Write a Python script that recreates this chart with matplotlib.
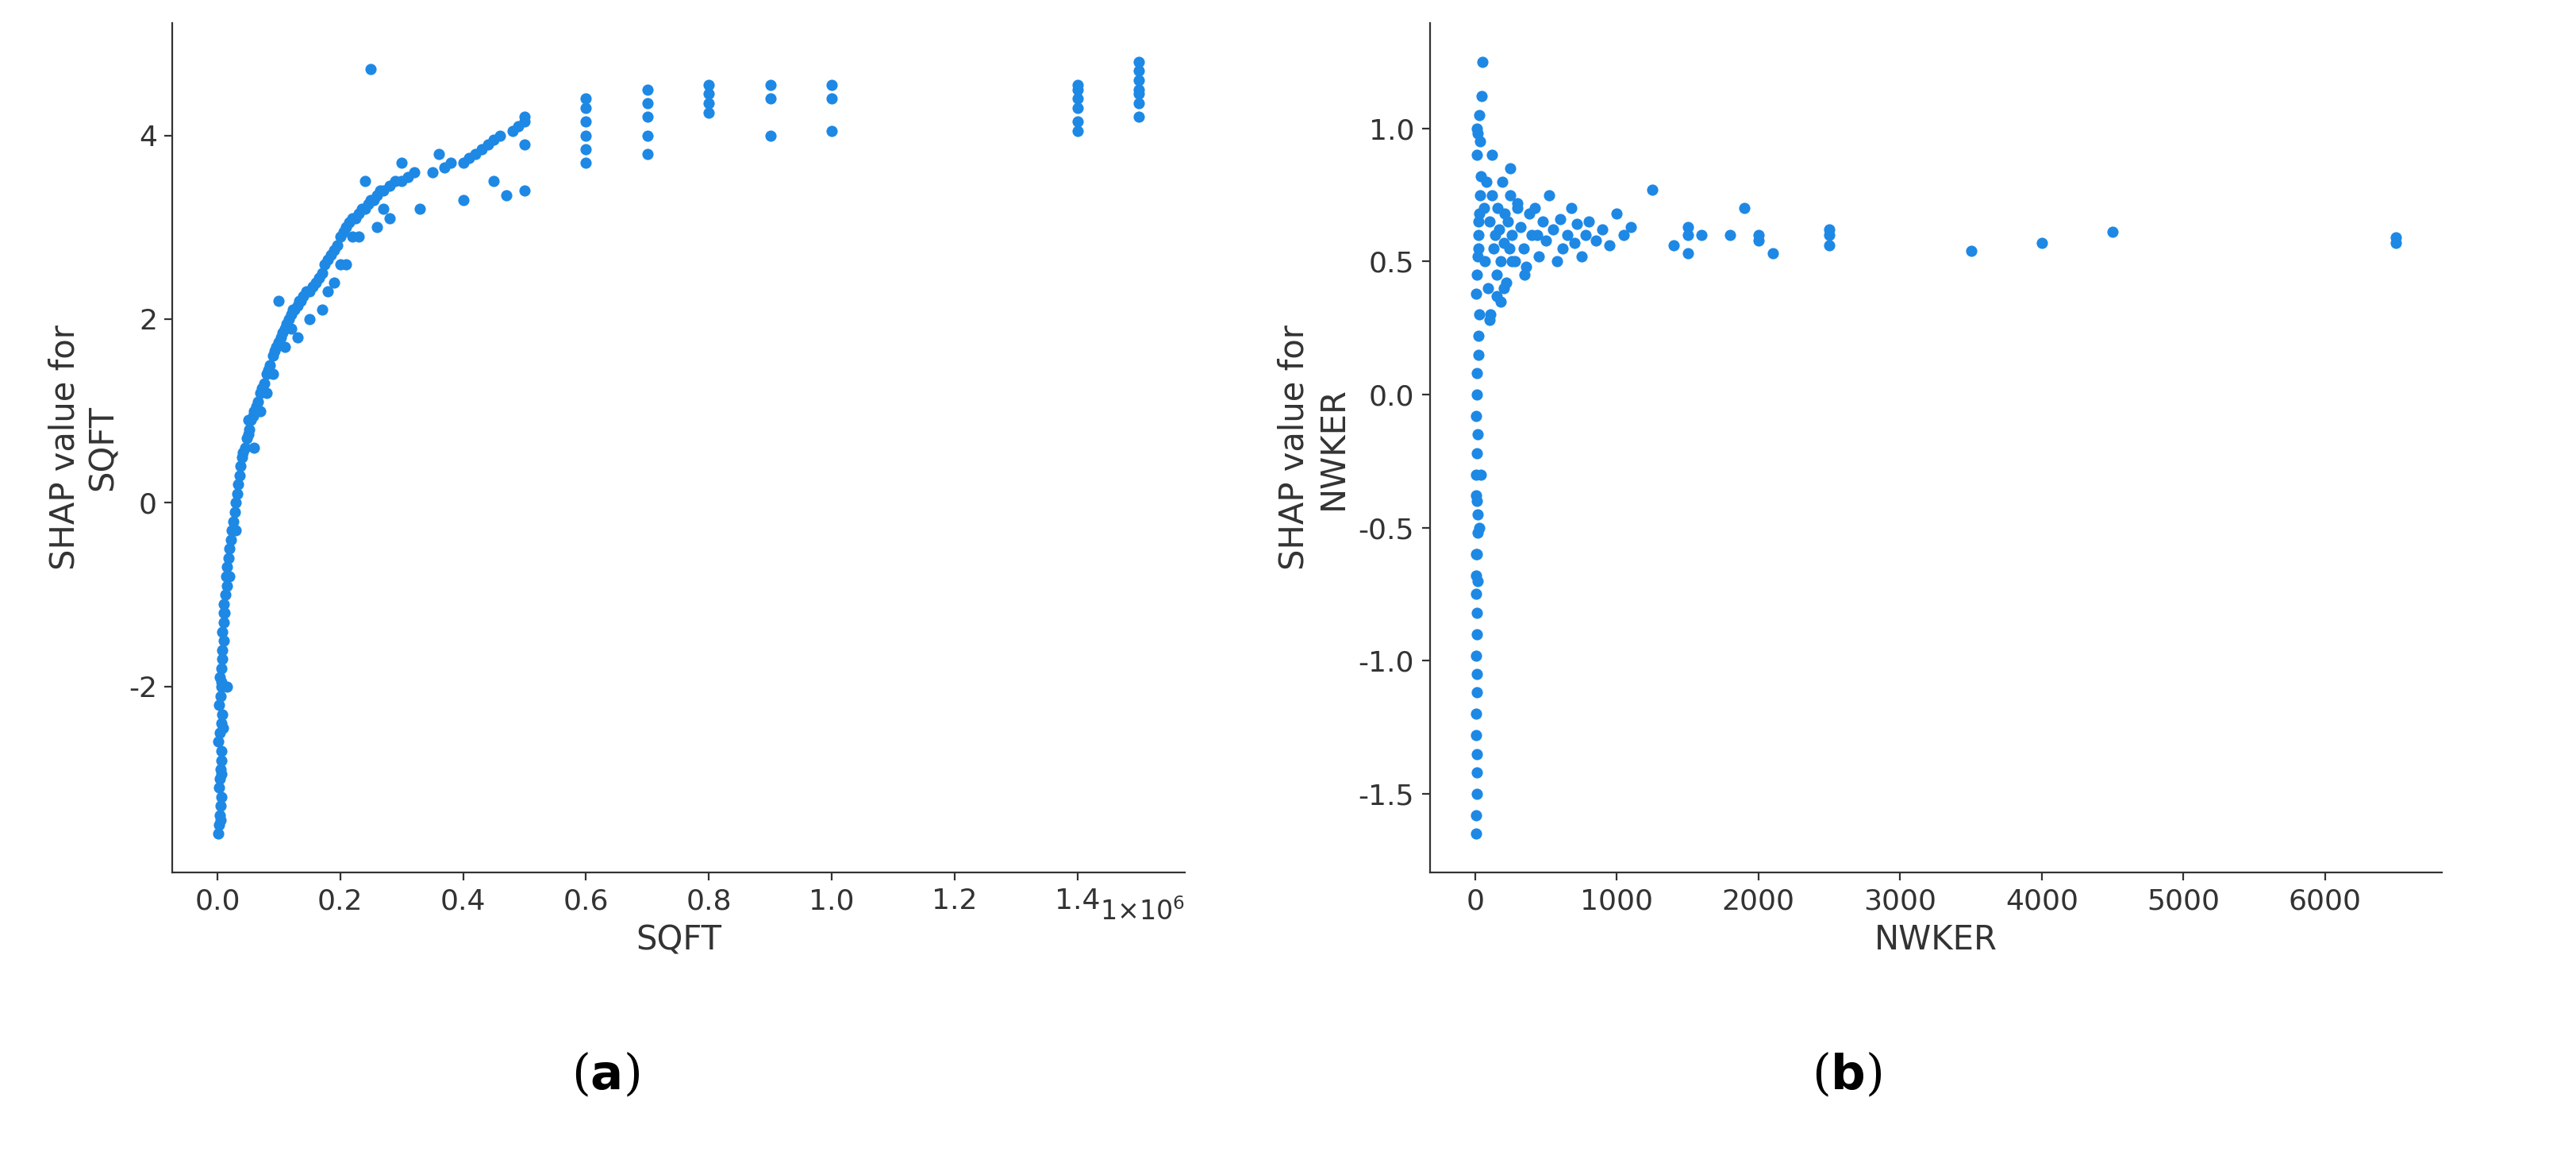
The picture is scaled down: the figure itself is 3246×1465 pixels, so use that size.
import matplotlib
matplotlib.use("Agg")
import matplotlib.pyplot as plt
from matplotlib.ticker import FuncFormatter

# ---------- Panel (a): SQFT (x in units of 1e6) ----------
sqft_x = [0.002,0.003,0.004,0.005,0.006,0.003,0.004,0.005,0.006,0.007,0.002,0.004,0.006,0.008,0.003,0.005,0.007,0.004,0.006,0.008,0.005,0.007,0.009,0.006,0.008,0.010,0.008,0.010,0.012,0.011,0.013,0.015,0.014,0.016,0.018,0.02,0.022,0.024,0.026,0.028,0.03,0.032,0.034,0.036,0.038,0.04,0.042,0.045,0.048,0.05,0.052,0.055,0.058,0.06,0.063,0.066,0.07,0.073,0.076,0.08,0.083,0.086,0.09,0.093,0.096,0.1,0.103,0.106,0.11,0.113,0.116,0.12,0.123,0.126,0.13,0.133,0.136,0.14,0.145,0.15,0.155,0.16,0.165,0.17,0.175,0.18,0.185,0.19,0.195,0.2,0.205,0.21,0.215,0.22,0.225,0.23,0.235,0.24,0.245,0.25,0.255,0.26,0.265,0.27,0.28,0.29,0.3,0.31,0.32,0.35,0.37,0.38,0.4,0.41,0.42,0.43,0.44,0.45,0.46,0.48,0.49,0.5,0.5,0.5,0.5,0.25,0.6,0.6,0.6,0.6,0.6,0.6,0.7,0.7,0.7,0.7,0.7,0.8,0.8,0.8,0.8,0.9,0.9,0.9,1.0,1.0,1.0,1.4,1.4,1.4,1.4,1.4,1.4,1.5,1.5,1.5,1.5,1.5,1.5,1.5,0.12,0.15,0.18,0.2,0.22,0.24,0.26,0.28,0.1,0.08,0.06,0.3,0.33,0.36,0.4,0.45,0.47,0.05,0.07,0.09,0.11,0.13,0.17,0.19,0.21,0.23,0.27,0.02,0.03,0.01,0.015]
sqft_y = [-3.6,-3.5,-3.4,-3.3,-3.2,-3.1,-3.0,-2.9,-2.8,-2.7,-2.6,-2.5,-2.4,-2.3,-2.2,-2.1,-2.0,-1.9,-1.8,-1.7,-3.45,-2.95,-2.45,-1.95,-1.6,-1.5,-1.4,-1.3,-1.2,-1.1,-1.0,-0.9,-0.8,-0.7,-0.6,-0.5,-0.4,-0.3,-0.2,-0.1,0.0,0.1,0.2,0.3,0.4,0.5,0.55,0.6,0.7,0.75,0.8,0.9,0.95,1.0,1.05,1.1,1.2,1.25,1.3,1.4,1.45,1.5,1.6,1.65,1.7,1.75,1.8,1.85,1.9,1.95,2.0,2.05,2.1,2.1,2.15,2.2,2.2,2.25,2.3,2.3,2.35,2.4,2.45,2.5,2.6,2.65,2.7,2.75,2.8,2.9,2.95,3.0,3.05,3.1,3.1,3.15,3.2,3.2,3.25,3.3,3.3,3.35,3.4,3.4,3.45,3.5,3.5,3.55,3.6,3.6,3.65,3.7,3.7,3.75,3.8,3.85,3.9,3.95,4.0,4.05,4.1,4.15,4.2,3.4,3.9,4.72,3.7,3.85,4.0,4.15,4.3,4.4,3.8,4.0,4.2,4.35,4.5,4.25,4.35,4.45,4.55,4.0,4.4,4.55,4.05,4.4,4.55,4.05,4.15,4.3,4.4,4.5,4.55,4.2,4.35,4.45,4.5,4.6,4.7,4.8,1.9,2.0,2.3,2.6,2.9,3.5,3.0,3.1,2.2,1.2,0.6,3.7,3.2,3.8,3.3,3.5,3.35,0.9,1.0,1.4,1.7,1.8,2.1,2.4,2.6,2.9,3.2,-0.8,-0.3,-1.2,-2.0]

# ---------- Panel (b): NWKER ----------
nwk_x = [5,8,10,12,15,6,9,11,14,7,10,13,5,8,12,16,20,4,9,14,18,6,11,15,22,25,30,8,12,18,24,28,35,40,10,20,30,45,50,5,15,25,60,70,80,90,100,110,120,130,140,150,160,170,180,190,200,210,220,230,240,250,260,280,300,320,340,360,380,400,420,450,480,500,520,550,580,600,620,650,680,700,720,750,780,800,850,900,950,1000,1050,1100,1250,1400,1500,1500,1500,1600,1800,1900,2000,2000,2100,2500,2500,2500,3500,4000,4500,6500,6500,100,150,200,250,300,120,180,260,350,440,20,30,40,25,35,15]
nwk_y = [-1.65,-1.58,-1.5,-1.42,-1.35,-1.28,-1.2,-1.12,-1.05,-0.98,-0.9,-0.82,-0.75,-0.68,-0.6,-0.52,-0.45,-0.38,-0.3,-0.22,-0.15,-0.08,0.0,0.08,0.15,0.22,0.3,0.38,0.45,0.52,0.6,0.68,0.75,0.82,0.9,0.98,1.05,1.12,1.25,-0.6,-0.4,0.55,0.7,0.5,0.8,0.4,0.65,0.3,0.75,0.55,0.6,0.45,0.7,0.62,0.5,0.8,0.57,0.68,0.42,0.65,0.55,0.75,0.6,0.5,0.72,0.63,0.55,0.48,0.68,0.6,0.7,0.52,0.65,0.58,0.75,0.62,0.5,0.66,0.55,0.6,0.7,0.57,0.64,0.52,0.6,0.65,0.58,0.62,0.56,0.68,0.6,0.63,0.77,0.56,0.63,0.6,0.53,0.6,0.6,0.7,0.58,0.6,0.53,0.56,0.6,0.62,0.54,0.57,0.61,0.57,0.59,0.28,0.37,0.4,0.85,0.7,0.9,0.35,0.5,0.45,0.6,-0.7,-0.5,-0.3,0.65,0.95,1.0]

COLOR = "#1E88E5"
plt.rcParams['font.family'] = ['DejaVu Sans']
plt.rcParams['axes.unicode_minus'] = False
fig = plt.figure(figsize=(16.23, 7.325), dpi=200)
axa = fig.add_axes([0.067, 0.25, 0.393, 0.73])
axb = fig.add_axes([0.555, 0.25, 0.393, 0.73])

for ax in (axa, axb):
    for s in ("top", "right"):
        ax.spines[s].set_visible(False)
    for s in ("left", "bottom"):
        ax.spines[s].set_color("#333333")
    ax.tick_params(labelsize=13, colors="#333333", labelcolor="#333333")

axa.scatter([v * 1e6 for v in sqft_x], sqft_y, s=26, color=COLOR, linewidths=0)
axa.xaxis.set_major_formatter(FuncFormatter(lambda v, p: f"{v/1e6:.1f}"))
axa.set_xticks([i * 0.2e6 for i in range(8)])
axa.set_yticks([-2, 0, 2, 4])
axa.set_xlabel("SQFT", fontsize=15, color="#333333")
axa.set_ylabel("SHAP value for\nSQFT", fontsize=15, color="#333333")
axa.text(1.0, -0.03, "1×10$^6$", transform=axa.transAxes, ha="right", va="top",
         fontsize=12, color="#333333")

axb.scatter(nwk_x, nwk_y, s=26, color=COLOR, linewidths=0)
axb.set_xticks(range(0, 7000, 1000))
axb.set_yticks([-1.5, -1.0, -0.5, 0.0, 0.5, 1.0])
axb.set_xlabel("NWKER", fontsize=15, color="#333333")
axb.set_ylabel("SHAP value for\nNWKER", fontsize=15, color="#333333")

fig.text(0.235, 0.075, "($\\mathbf{a}$)", ha="center", va="center", fontsize=22, family="DejaVu Serif")
fig.text(0.717, 0.075, "($\\mathbf{b}$)", ha="center", va="center", fontsize=22, family="DejaVu Serif")

fig.savefig("out.png", dpi=200)
